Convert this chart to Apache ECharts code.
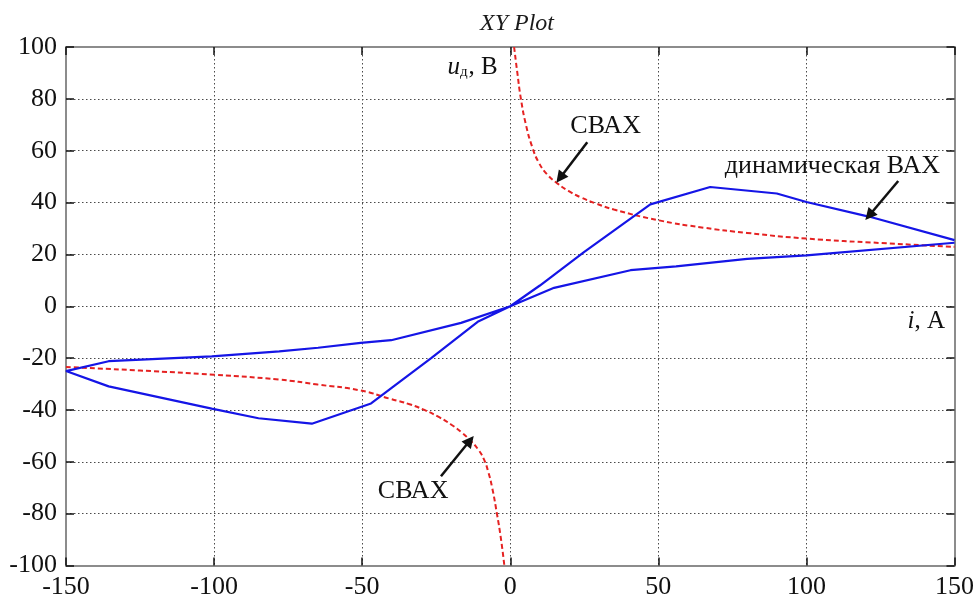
<!DOCTYPE html>
<html>
<head>
<meta charset="utf-8">
<title>XY Plot</title>
<script src="https://cdn.jsdelivr.net/npm/echarts@6/dist/echarts.min.js"></script>
<style>
  html, body { margin: 0; padding: 0; background: #ffffff; }
  #chart { width: 977px; height: 601px; }
</style>
</head>
<body>
<div id="chart"></div>
<script>
// Static characteristic (СВАХ), positive current branch: i [A], u [V]
const svaxPosI = [1.3, 2.4, 3.6, 5.3, 7.4, 9.6, 12.5, 15.9, 19.5, 23.8, 29, 35, 49.9, 65.3, 79.9, 100, 125, 150];
const svaxPosU = [100, 90, 80, 70, 61.5, 55.5, 50.8, 47.4, 44.6, 42, 39.6, 37.3, 33.2, 30.3, 28.3, 26.1, 24.4, 22.9];

// Static characteristic (СВАХ), negative current branch
const svaxNegI = [-150, -125, -100, -78, -65, -50.5, -40.3, -34, -29, -24, -20, -16.5, -13.3, -10.8, -8.9, -7.4, -6.1, -4.5, -3.1, -2];
const svaxNegU = [-23.4, -24.8, -26.4, -28.3, -30.2, -32.5, -35.8, -37.8, -40, -42.8, -45.6, -48.6, -52, -55.3, -59, -64, -70, -80, -90, -100];

// Dynamic characteristic (динамическая ВАХ), one closed loop
const dynI = [150, 121.4, 100, 90, 67.5, 47.3, 25, 10, 0, -11, -26.7, -47, -67, -85, -100.8, -135.6, -150,
              -135.6, -100.8, -78, -64.9, -50.5, -40.2, -16.6, 0, 14.8, 40.6, 56, 80, 100, 150];
const dynU = [25.5, 34.5, 40.2, 43.5, 46, 39.3, 21, 8, 0, -6, -20, -37.5, -45.3, -43.2, -39.5, -30.9, -25,
              -21.2, -19.3, -17.4, -16, -14.1, -13.1, -6.4, 0, 7.1, 13.9, 15.4, 18.3, 19.6, 24.5];

// Axis ranges
const xTicks = [-150, -100, -50, 0, 50, 100, 150];
const yTicks = [-100, -80, -60, -40, -20, 0, 20, 40, 60, 80, 100];

const zip = (a, b) => a.map((v, k) => [v, b[k]]);

const serif = 'Liberation Serif';
const ink = '#111111';
const frameColor = '#8c8c8c';
const gridLine = { show: true, lineStyle: { color: '#4a4a4a', width: 1, type: [1.5, 2.5] } };
const ticks = { show: true, inside: true, length: 8, lineStyle: { color: ink, width: 1.5 } };

function valueAxis(range, step, pos, withLabels) {
  return {
    type: 'value',
    min: range[0],
    max: range[range.length - 1],
    interval: step,
    position: pos,
    axisLine: { show: true, onZero: false, lineStyle: { color: frameColor, width: 2 } },
    axisTick: ticks,
    splitLine: withLabels ? gridLine : { show: false },
    axisLabel: withLabels
      ? { show: true, color: ink, fontFamily: serif, fontSize: 26, margin: 9 }
      : { show: false }
  };
}

const redStyle = { color: '#e52222', width: 2, type: [5, 3] };

const chart = echarts.init(document.getElementById('chart'), null, { renderer: 'canvas' });

chart.setOption({
  backgroundColor: '#ffffff',
  animation: false,
  title: {
    text: 'XY Plot',
    left: 512,
    textAlign: 'center',
    top: 7,
    textStyle: { fontFamily: serif, fontStyle: 'italic', fontWeight: 'normal', fontSize: 24, color: '#1a1a1a' }
  },
  grid: { left: 66, right: 19, top: 47, bottom: 35.5, containLabel: false },
  xAxis: [
    valueAxis(xTicks, 50, 'bottom', true),
    valueAxis(xTicks, 50, 'top', false)
  ],
  yAxis: [
    valueAxis(yTicks, 20, 'left', true),
    valueAxis(yTicks, 20, 'right', false)
  ],
  series: [
    {
      name: 'СВАХ+',
      type: 'line',
      data: zip(svaxPosI, svaxPosU),
      showSymbol: false,
      smooth: 0.5,
      lineStyle: redStyle,
      z: 3
    },
    {
      name: 'СВАХ-',
      type: 'line',
      data: zip(svaxNegI, svaxNegU),
      showSymbol: false,
      smooth: 0.5,
      lineStyle: redStyle,
      z: 3
    },
    {
      name: 'динамическая ВАХ',
      type: 'line',
      data: zip(dynI, dynU),
      showSymbol: false,
      lineStyle: { color: '#1515e6', width: 2.2 },
      z: 4
    },
    {
      // annotation arrows
      type: 'lines',
      coordinateSystem: 'cartesian2d',
      symbol: ['none', 'triangle'],
      symbolSize: 12,
      lineStyle: { color: ink, width: 2.5, opacity: 1 },
      itemStyle: { color: ink, opacity: 1 },
      data: [
        { coords: [[26, 63.3], [16.8, 49.5]] },
        { coords: [[-23.4, -65.6], [-13.6, -51.8]] },
        { coords: [[131, 48.3], [121.2, 35]] }
      ],
      z: 6
    },
    {
      // text annotations
      type: 'scatter',
      symbolSize: 0,
      silent: true,
      itemStyle: { opacity: 1 },
      label: {
        show: true,
        position: 'inside',
        color: ink,
        opacity: 1,
        fontFamily: serif,
        fontSize: 26,
        formatter: p => p.data[2],
        rich: {
          it: { fontFamily: serif, fontStyle: 'italic', fontSize: 25, color: ink },
          sub: { fontFamily: serif, fontSize: 15, color: ink, padding: [10, 1, 0, 0] },
          n: { fontFamily: serif, fontSize: 25, color: ink }
        }
      },
      data: [
        [-12.7, 92.2, '{it|u}{sub|д}{n|, В}'],
        [140.5, -5.8, '{it|i}{n|, А}'],
        [32.2, 69.5, 'СВАХ'],
        [-32.8, -71.4, 'СВАХ'],
        [108.8, 54, 'динамическая ВАХ']
      ],
      z: 7
    }
  ]
});
</script>
</body>
</html>
